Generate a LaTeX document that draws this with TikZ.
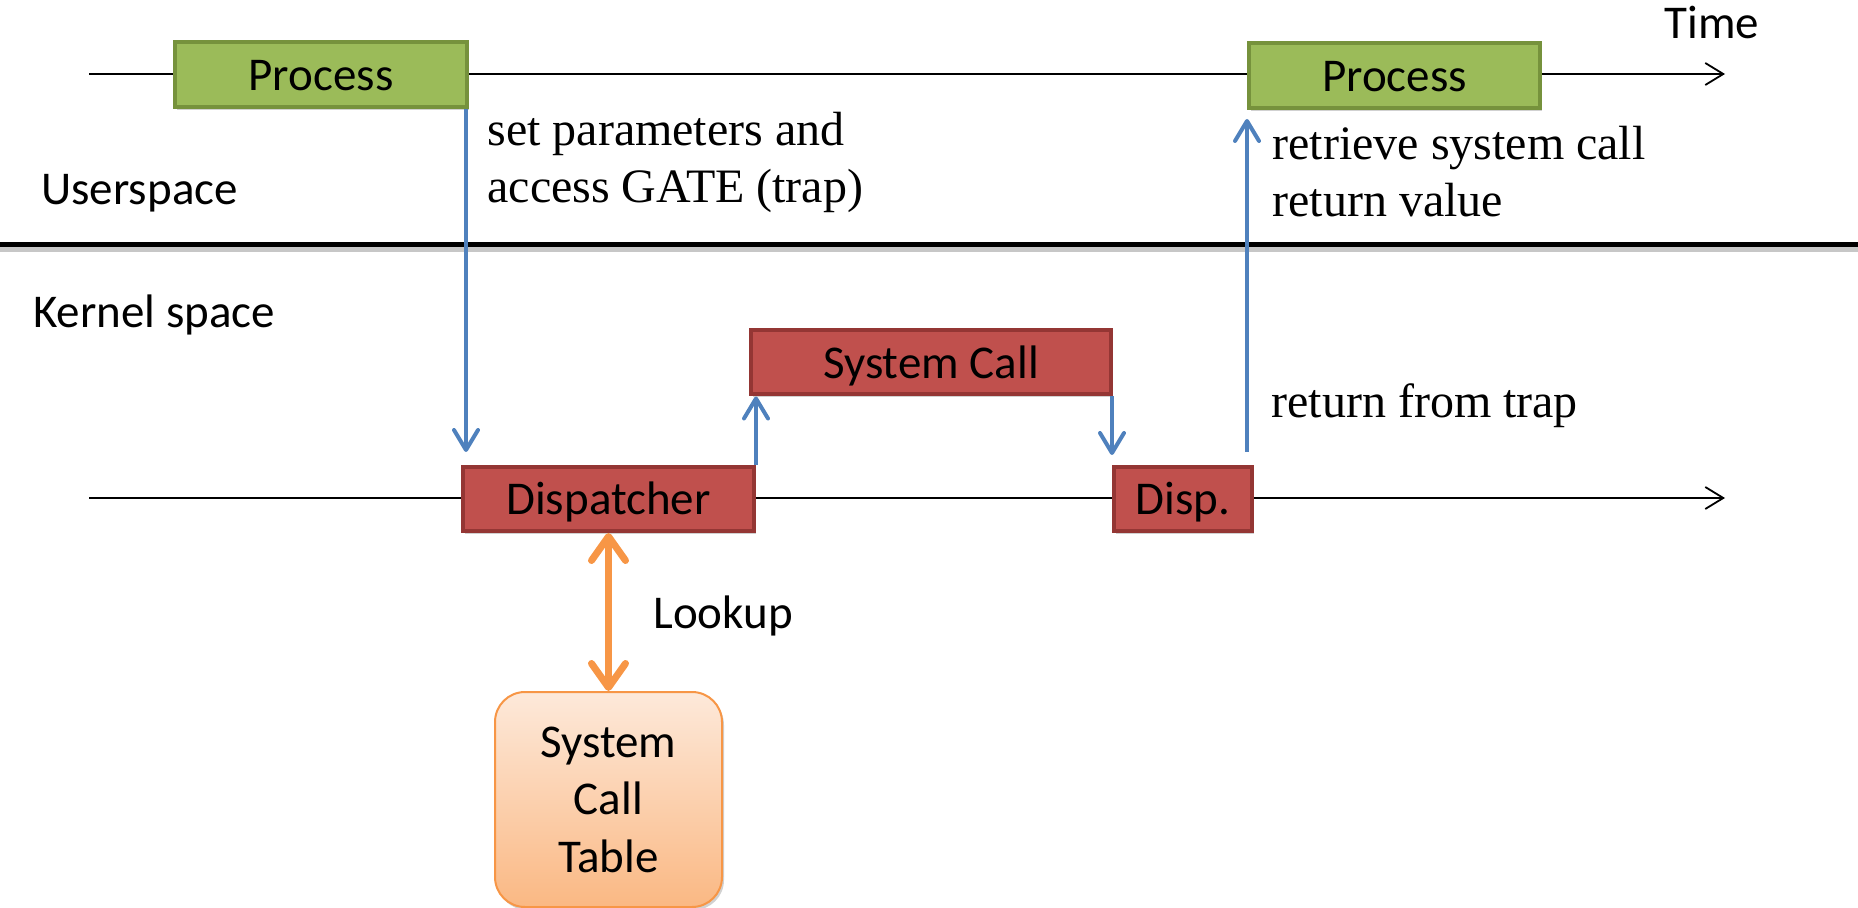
\documentclass[tikz,border=0pt]{standalone}
\usepackage{fontspec}
\setmainfont{Carlito}
\newfontfamily\tnr{Liberation Serif}
\usetikzlibrary{arrows.meta,shadows,calc}
\definecolor{procfill}{HTML}{9BBB59}
\definecolor{procline}{HTML}{76923C}
\definecolor{kernfill}{HTML}{C0504D}
\definecolor{kernline}{HTML}{943634}
\definecolor{flow}{HTML}{4F81BD}
\definecolor{lookup}{HTML}{F79646}
\definecolor{tabtop}{HTML}{FDE9DA}
\definecolor{tabbot}{HTML}{FAB883}
\begin{document}
\begin{tikzpicture}[x=0.5pt,y=-0.5pt,
  lbl/.style={font=\fontsize{23.5pt}{28.75pt}\selectfont, inner sep=0pt},
  note/.style={font=\tnr\fontsize{24pt}{28.5pt}\selectfont, inner sep=0pt, align=left},
  boxshadow/.style={drop shadow={shadow xshift=1pt, shadow yshift=-1.5pt, opacity=0.3, fill=black!60}},
  boxtext/.style={text height=20pt, text depth=4pt},
  procbox/.style={lbl, boxtext, draw=procline, fill=procfill, line width=2pt, minimum height=32.5pt, boxshadow},
  kernbox/.style={lbl, boxtext, draw=kernline, fill=kernfill, line width=2pt, minimum height=32pt, boxshadow},
  tablebox/.style={lbl, align=center, draw=lookup, line width=1pt, rounded corners=15pt,
    top color=tabtop, bottom color=tabbot, minimum width=113.5pt, minimum height=107.5pt, boxshadow},
  timeline/.style={line width=0.9pt, -{Straight Barb[length=9pt,width=11pt]}},
  flowarrow/.style={draw=flow, line width=2pt, -{Straight Barb[length=10pt,width=12pt,round]}},
  lookuparrow/.style={draw=lookup, line width=3.5pt,
    {Straight Barb[length=12pt,width=17pt,round]}-{Straight Barb[length=12pt,width=17pt,round]}},
]
\useasboundingbox (0,0) rectangle (1858,908);

% user/kernel boundary with its soft shadow
\draw[black!22, line width=2.5pt] (0,250) -- (1858,250);
\draw[line width=2.5pt] (0,245) -- (1858,245);

% time axes
\coordinate (ts) at (89,74);
\coordinate (te) at (1725,74);
\coordinate (bs) at (89,498);
\coordinate (be) at (1725,498);
\draw[timeline] (ts) -- (te);
\draw[timeline] (bs) -- (be);

% activity boxes
\node[procbox, minimum width=146pt] (p1) at (321,74.5) {Process};
\node[procbox, minimum width=145.5pt] (p2) at (1394.5,75.5) {Process};
\node[kernbox, minimum width=145.5pt] (d1) at (608.5,499) {Dispatcher};
\node[kernbox, minimum width=180pt] (sc) at (931,362.5) {System Call};
\node[kernbox, minimum width=69pt] (d2) at (1183,499) {Disp.};
\node[tablebox] (tab) at (608.5,799.5) {System\\Call\\Table};

% labels (multi-line notes are anchored at the baseline of their last line)
\node[lbl, anchor=base] (time) at (1712,39) {Time};
\node[lbl, anchor=base west] (us) at (41,205) {Userspace};
\node[lbl, anchor=base west] (ks) at (33,328) {Kernel space};
\node[lbl, anchor=base west] (lk) at (653,629) {Lookup};
\node[note, anchor=base west] (n1) at (487,203) {set parameters and\\access GATE (trap)};
\node[note, anchor=base west] (n2) at (1272,217) {retrieve system call\\return value};
\node[note, anchor=base west] (n3) at (1271,418) {return from trap};

% control flow
\coordinate (gate) at (466,452);
\coordinate (retS) at (1249,452);
\draw[flowarrow] (p1.south east -| gate) -- (gate);
\draw[flowarrow] (d1.north east) -- (d1.north east |- sc.south);
\draw[flowarrow] (sc.south east -| d2.north west) -- ([yshift=5pt]d2.north west);
\draw[flowarrow] (p2.south west |- retS) -- ([yshift=-4.5pt]p2.south west);
\draw[lookuparrow] (d1.south) -- (tab.north);
\end{tikzpicture}
\end{document}
